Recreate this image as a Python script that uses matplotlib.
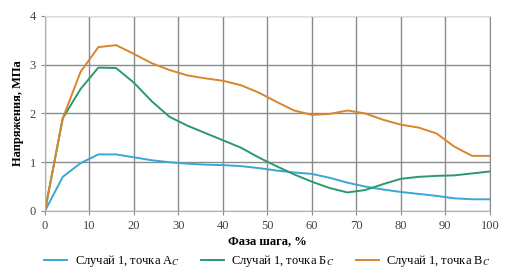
import matplotlib
matplotlib.use("Agg")
import matplotlib.pyplot as plt

x = [0, 4, 8, 12, 16, 20, 24, 28, 32, 36, 40, 44, 48, 52, 56, 60, 64, 68, 72, 76, 80, 84, 88, 92, 96, 100]
a_c = [0, 0.70, 0.98, 1.16, 1.16, 1.10, 1.04, 1.00, 0.97, 0.95, 0.94, 0.92, 0.88, 0.83, 0.79, 0.76, 0.68, 0.58, 0.50, 0.44, 0.39, 0.35, 0.31, 0.26, 0.24, 0.24]
b_c = [0, 1.90, 2.50, 2.94, 2.93, 2.63, 2.25, 1.93, 1.75, 1.60, 1.45, 1.30, 1.10, 0.92, 0.75, 0.60, 0.47, 0.38, 0.43, 0.55, 0.66, 0.70, 0.72, 0.73, 0.77, 0.81]
v_c = [0, 1.90, 2.85, 3.36, 3.40, 3.22, 3.03, 2.89, 2.78, 2.72, 2.67, 2.58, 2.43, 2.24, 2.06, 1.97, 1.99, 2.06, 2.00, 1.87, 1.77, 1.71, 1.59, 1.32, 1.13, 1.13]
labels = ["Случай 1, точка А$_{C}$", "Случай 1, точка Б$_{C}$", "Случай 1, точка В$_{C}$"]
colors = ["#3aa6d6", "#2a9a6c", "#d9842e"]

plt.rcParams['font.family'] = ['Liberation Serif', 'DejaVu Serif']
plt.rcParams['mathtext.fontset'] = 'stix'

fig = plt.figure(figsize=(5.05, 2.74), dpi=100)
ax = fig.add_axes([0.089, 0.23, 0.881, 0.712])
for ys, lab, c in zip([a_c, b_c, v_c], labels, colors):
    ax.plot(x, ys, color=c, lw=1.4, label=lab)

ax.set_xlim(0, 100)
ax.set_ylim(0, 4)
ax.set_xticks(range(0, 101, 10))
ax.set_yticks(range(0, 5))
ax.grid(True, color="#8a8a8a", lw=1.0)
ax.set_axisbelow(True)
for s in ax.spines.values():
    s.set_color("#b0b0b0")
    s.set_linewidth(0.8)
ax.spines['top'].set_color("#dddddd")
ax.spines['right'].set_color("#8a8a8a")
ax.tick_params(length=3, color="#8a8a8a", labelsize=9, colors="#444444")
ax.set_xlabel("Фаза шага, %", fontsize=9, fontweight='bold', labelpad=2)
ax.set_ylabel("Напряжения, МПа", fontsize=9, fontweight='bold', labelpad=4)
ax.legend(loc='upper center', bbox_to_anchor=(0.5, -0.215), ncol=3, frameon=False,
          fontsize=9, handlelength=1.85, handletextpad=0.6, columnspacing=1.7,
          borderaxespad=0, borderpad=0)
fig.savefig("out.png", dpi=100)
